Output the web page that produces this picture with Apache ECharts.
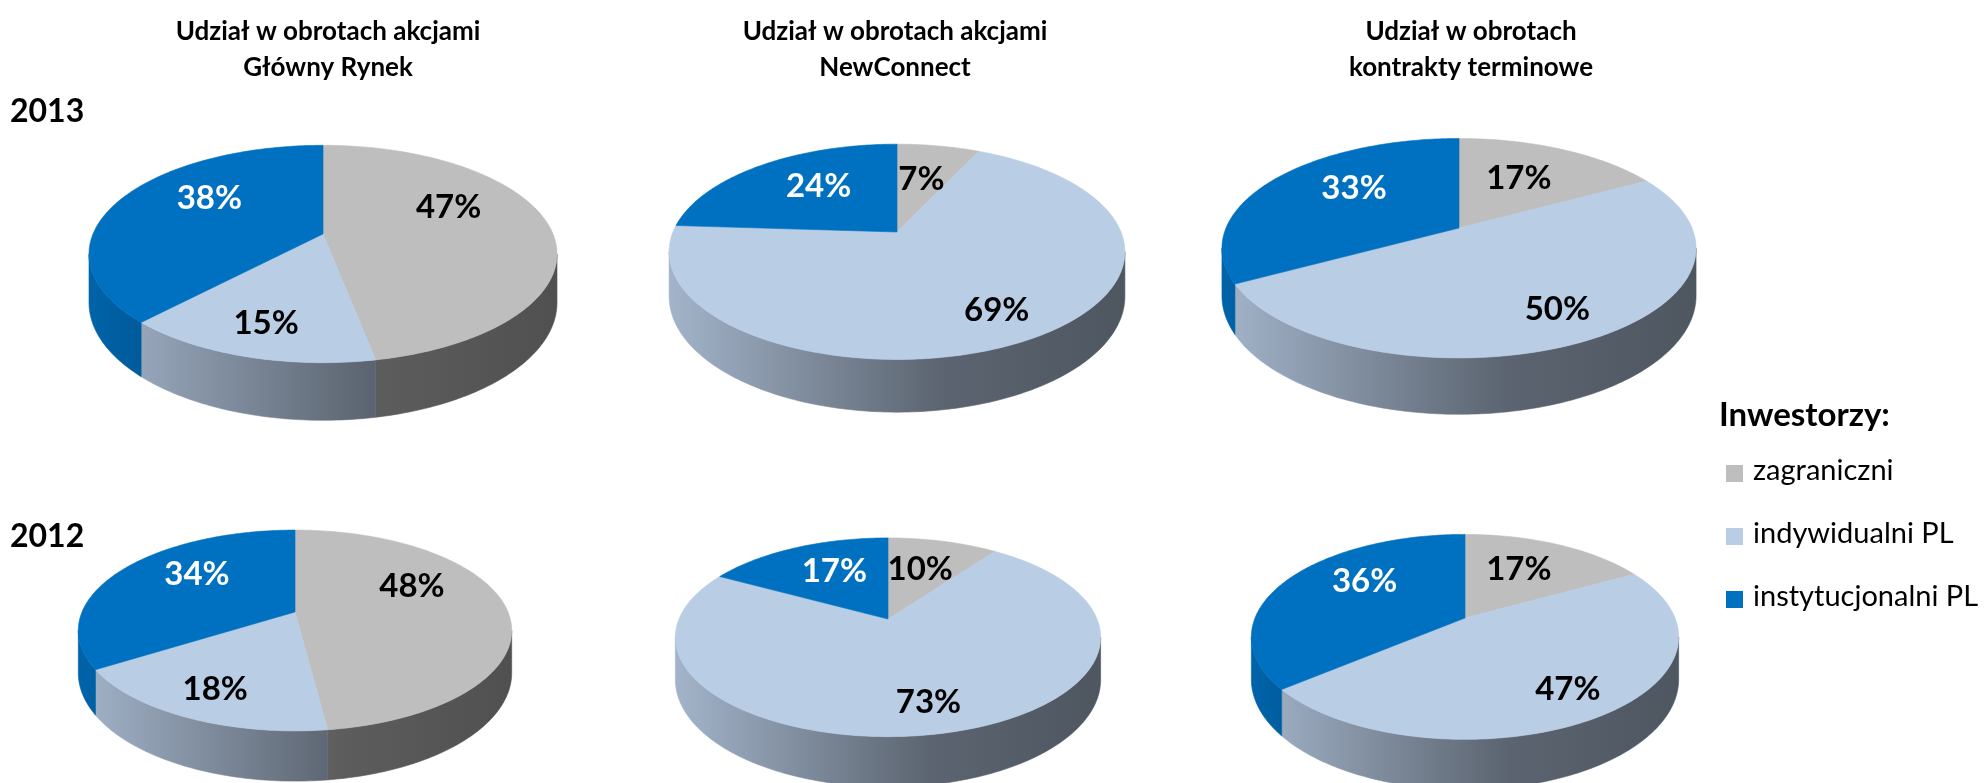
<!DOCTYPE html>
<html>
<head>
<meta charset="utf-8">
<title>Udział w obrotach</title>
<script src="https://cdn.jsdelivr.net/npm/echarts@6/dist/echarts.min.js"></script>
<style>
  html, body { margin: 0; padding: 0; background: #fff; }
  #chart { width: 1984px; height: 783px; }
</style>
</head>
<body>
<div id="chart"></div>
<script>
// investor groups, in slice order (clockwise from 12 o'clock)
var investorNames = ['zagraniczni', 'indywidualni PL', 'instytucjonalni PL']
var panelTitles = [
  'Udział w obrotach akcjami\nGłówny Rynek',
  'Udział w obrotach akcjami\nNewConnect',
  'Udział w obrotach\nkontrakty terminowe'
]
var years = ['2013', '2012']

// shares in %, [zagraniczni, indywidualni PL, instytucjonalni PL]
var main2013 = [47, 15, 38]
var newConnect2013 = [7, 69, 24]
var futures2013 = [17, 50, 33]
var main2012 = [48, 18, 34]
var newConnect2012 = [10, 73, 17]
var futures2012 = [17, 47, 36]

var colors = ['#BEBEBE', '#B9CDE5', '#0070C0']
var labelColors = ['#000', '#000', '#fff']
var FONT = 'Lato, "Open Sans", sans-serif'

// pie boxes: centre of top face, radii, wall height
var PERSP = 0.184
var boxes = [
  { cx: 323, cy: 234, rx: 230, ry: 105, h: 47 },
  { cx: 897, cy: 232, rx: 224, ry: 104, h: 43 },
  { cx: 1459, cy: 228, rx: 233, ry: 106, h: 46 },
  { cx: 295, cy: 612, rx: 213, ry: 97, h: 41 },
  { cx: 888, cy: 619, rx: 209, ry: 96, h: 41 },
  { cx: 1465, cy: 618, rx: 210, ry: 99, h: 41 }
]
var pieData = [main2013, newConnect2013, futures2013, main2012, newConnect2012, futures2012]
var titleX = [323, 890, 1466]

function shade (hex, f) {
  var n = parseInt(hex.slice(1), 16)
  var r = Math.round(((n >> 16) & 255) * f)
  var g = Math.round(((n >> 8) & 255) * f)
  var b = Math.round((n & 255) * f)
  return 'rgb(' + r + ',' + g + ',' + b + ')'
}

// perspective projection of a point on the unit disc (Y = 1 is the far edge)
function proj (b, X, Y, dz) {
  var q = 1 / (1 + PERSP * Y)
  return [b.cx + b.rx * X * q, b.cy - b.ry * Y * q + b.h * dz * q]
}

function rim (b, t1, t2, dz) {
  var pts = []
  var n = Math.max(2, Math.ceil(t2 - t1))
  for (var k = 0; k <= n; k++) {
    var t = (t1 + (t2 - t1) * k / n) * Math.PI / 180
    pts.push(proj(b, Math.sin(t), Math.cos(t), dz))
  }
  return pts
}

// label spot: mid-angle, pushed away from the centre like Excel does
function labelPos (b, mid) {
  var r = 0.63
  var p = proj(b, r * Math.sin(mid), r * Math.cos(mid), 0)
  var dx = p[0] - b.cx
  var dy = p[1] - b.cy
  if (dy > 0) {
    return [b.cx + dx * 1.25, b.cy + dy * 1.25]
  }
  return [b.cx + dx * 0.88, b.cy + dy * 0.5 - 24]
}

var visFrom = Math.acos(-PERSP) * 180 / Math.PI
var visTo = 360 - visFrom

function makeSeries (values, b) {
  var total = 0
  values.forEach(function (v) { total += v })
  return {
    type: 'custom',
    coordinateSystem: 'none',
    silent: true,
    animation: false,
    data: values,
    renderItem: function (params, api) {
      var i = params.dataIndex
      var before = 0
      for (var j = 0; j < i; j++) before += values[j]
      var v = api.value(0)
      var t1 = before / total * 360
      var t2 = (before + v) / total * 360
      var base = colors[i]
      var children = []

      var s = Math.max(t1, visFrom)
      var e = Math.min(t2, visTo)
      if (s < e) {
        var grad = {
          type: 'linear',
          global: true,
          x: b.cx - b.rx * 1.02,
          y: 0,
          x2: b.cx + b.rx * 1.02,
          y2: 0,
          colorStops: [
            { offset: 0, color: shade(base, 0.88) },
            { offset: 0.6, color: shade(base, 0.49) },
            { offset: 1, color: shade(base, 0.42) }
          ]
        }
        var side = rim(b, s, e, 0).concat(rim(b, s, e, 1).reverse())
        children.push({
          type: 'polygon',
          shape: { points: side },
          style: { fill: grad, stroke: grad, lineWidth: 0.6 }
        })
      }

      var top = [proj(b, 0, 0, 0)].concat(rim(b, t1, t2, 0))
      children.push({
        type: 'polygon',
        z2: 5,
        shape: { points: top },
        style: { fill: base, stroke: base, lineWidth: 0.6 }
      })

      var p = labelPos(b, (t1 + t2) / 2 * Math.PI / 180)
      children.push({
        type: 'text',
        z2: 50,
        style: {
          text: Math.round(v) + '%',
          x: p[0],
          y: p[1],
          fill: labelColors[i],
          font: 'bold 33px ' + FONT,
          align: 'center',
          verticalAlign: 'middle',
          textAlign: 'center',
          textVerticalAlign: 'middle'
        }
      })
      return { type: 'group', children: children }
    }
  }
}

var chart = echarts.init(document.getElementById('chart'), null, { renderer: 'canvas' })

var titles = panelTitles.map(function (t, k) {
  return {
    text: t,
    left: titleX[k],
    top: 9,
    textAlign: 'center',
    textStyle: {
      fontFamily: FONT,
      fontWeight: 'bold',
      fontSize: 26,
      lineHeight: 36,
      color: '#000'
    }
  }
})

var yearY = [113, 538]
var graphics = years.map(function (y, k) {
  return {
    type: 'text',
    left: 10,
    top: yearY[k] - 17,
    style: { text: y, font: 'bold 32px ' + FONT, fill: '#000' }
  }
})

var legendRows = [473, 536, 599]
graphics.push({
  type: 'text',
  left: 1719,
  top: 399,
  style: { text: 'Inwestorzy:', font: 'bold 33px ' + FONT, fill: '#000' }
})
investorNames.forEach(function (name, k) {
  graphics.push({
    type: 'rect',
    left: 1726,
    top: legendRows[k] - 8,
    shape: { width: 17, height: 17 },
    style: { fill: colors[k] }
  })
  graphics.push({
    type: 'text',
    left: 1753,
    top: legendRows[k] - 17,
    style: { text: name, font: '29px ' + FONT, fill: '#000' }
  })
})

chart.setOption({
  backgroundColor: '#fff',
  animation: false,
  title: titles,
  graphic: graphics,
  series: pieData.map(function (vals, k) { return makeSeries(vals, boxes[k]) })
})
</script>
</body>
</html>
